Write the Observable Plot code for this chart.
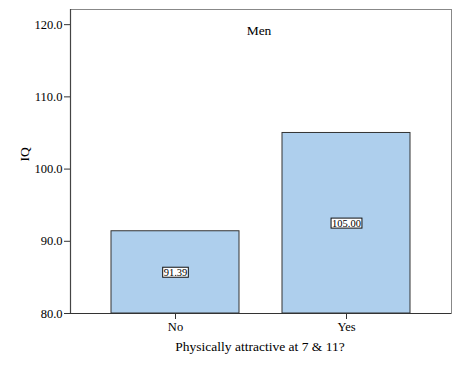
<!DOCTYPE html>
<html>
<head>
<meta charset="utf-8">
<script src="https://cdn.jsdelivr.net/npm/d3@7"></script>
<script src="https://cdn.jsdelivr.net/npm/@observablehq/plot@0.6"></script>
<style>
  body { margin: 0; background: #fff; }
</style>
</head>
<body>
<div id="chart"></div>
<script>
const categories = ["No", "Yes"];
const values = [91.39, 105.00];
const valueLabels = ["91.39", "105.00"];
const yTicks = [80, 90, 100, 110, 120];
const title = "Men";
const xLabel = "Physically attractive at 7 & 11?";
const yLabel = "IQ";

const data = categories.map((c, i) => ({cat: c, value: values[i], label: valueLabels[i]}));

const chart = Plot.plot({
  width: 460,
  height: 369,
  marginLeft: 70,
  marginRight: 9,
  marginTop: 9,
  marginBottom: 56,
  style: {fontFamily: "Liberation Serif", fontSize: "12px", color: "#000", background: "#fff"},
  x: {domain: categories, paddingInner: 0.25, paddingOuter: 0.2326, label: null},
  y: {domain: [80, 122.1], label: null},
  marks: [
    Plot.frame({stroke: "#888"}),
    Plot.frame({anchor: "left", stroke: "#444", strokeWidth: 1.2}),
    Plot.barY(data, {x: "cat", y1: 80, y2: "value", fill: "#aecfed", stroke: "#333", strokeWidth: 1}),
    Plot.ruleY([80], {stroke: "#333", strokeWidth: 1.2}),
    Plot.axisY({ticks: yTicks, tickFormat: d3.format(".1f"), tickSize: 6, tickPadding: 2, fontSize: 12.5, label: null, stroke: "#333"}),
    Plot.axisX({tickSize: 6, tickPadding: 3, fontSize: 12.5, label: null, stroke: "#333"}),
    Plot.text(data, {x: "cat", y: d => (80 + d.value) / 2, text: "label", fontSize: 10.5, fill: "#000"}),
    Plot.text([title], {frameAnchor: "top", dx: -2, dy: 16, fontSize: 13.5, fill: "#000"}),
    Plot.text([xLabel], {frameAnchor: "bottom", dx: -1, dy: 37, fontSize: 13.5, fill: "#000"}),
    Plot.text([yLabel], {frameAnchor: "left", dx: -46, rotate: -90, fontSize: 13.5, fill: "#000"})
  ]
});
document.getElementById("chart").appendChild(chart);

// boxes around value labels
const labelSet = new Set(valueLabels);
d3.select(chart).selectAll("text").filter(function() {
  return labelSet.has(this.textContent) && this.parentNode.getAttribute("aria-label") !== "y-axis tick label";
}).each(function() {
  const bb = this.getBBox();
  const g = this.parentNode;
  const r = document.createElementNS("http://www.w3.org/2000/svg", "rect");
  r.setAttribute("x", bb.x - 1);
  r.setAttribute("y", bb.y + 0.5);
  r.setAttribute("width", bb.width + 2);
  r.setAttribute("height", bb.height - 1);
  r.setAttribute("fill", "#fff");
  r.setAttribute("stroke", "#111");
  r.setAttribute("stroke-width", 1);
  const t = this.getAttribute("transform");
  if (t) r.setAttribute("transform", t);
  g.insertBefore(r, this);
});
</script>
</body>
</html>
